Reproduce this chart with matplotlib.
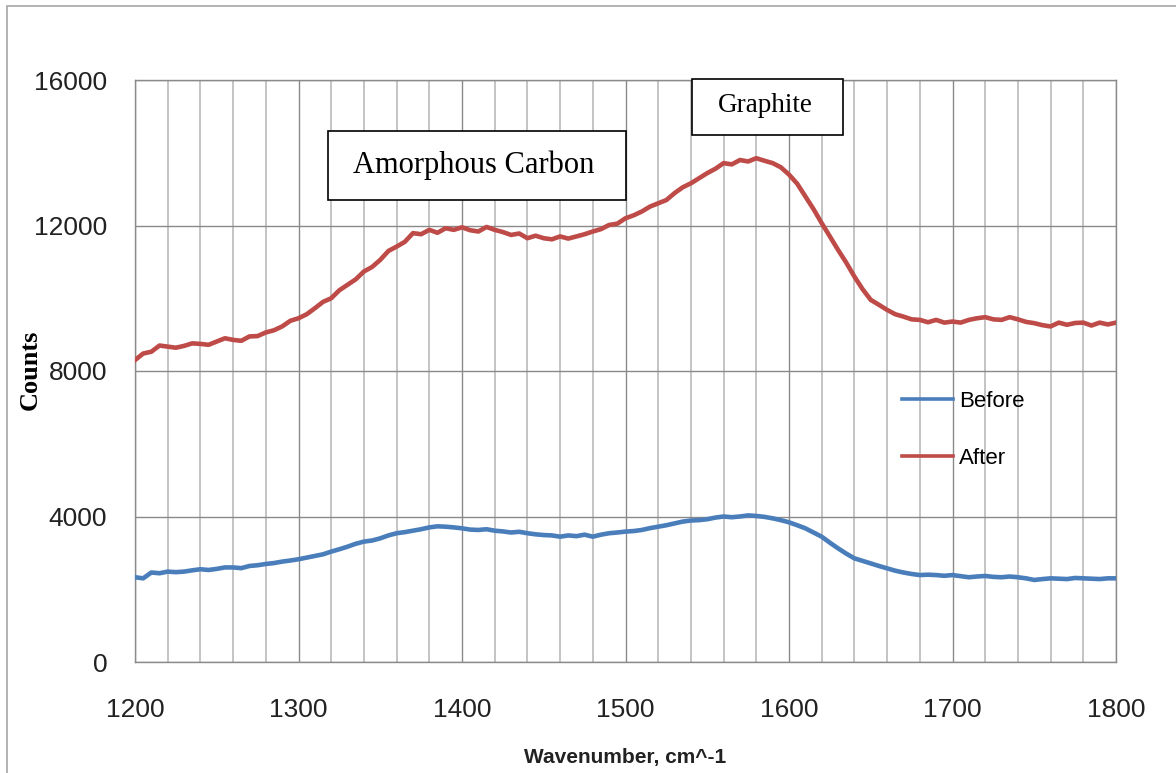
import numpy as np
import matplotlib
matplotlib.use("Agg")
import matplotlib.pyplot as plt
from matplotlib.patches import Rectangle
from matplotlib.ticker import MultipleLocator

# wavenumber grid (cm^-1), readings every 5 cm^-1
wavenumber = np.arange(1200, 1801, 5)

before = [
    2330, 2300, 2460, 2440, 2485, 2470, 2485, 2520, 2550, 2530,
    2560, 2600, 2600, 2580, 2640, 2660, 2695, 2720, 2760, 2790,
    2825, 2870, 2915, 2960, 3035, 3100, 3170, 3250, 3310, 3340,
    3400, 3480, 3540, 3570, 3610, 3650, 3700, 3730, 3720, 3700,
    3675, 3640, 3630, 3650, 3610, 3590, 3560, 3580, 3540, 3510,
    3490, 3480, 3445, 3480, 3460, 3500, 3445, 3500, 3540, 3560,
    3585, 3600, 3630, 3680, 3720, 3760, 3810, 3860, 3890, 3900,
    3925, 3970, 4000, 3980, 4000, 4030, 4015, 3990, 3950, 3900,
    3840, 3760, 3675, 3560, 3445, 3280, 3125, 2980, 2850, 2780,
    2710, 2640, 2575, 2510, 2460, 2420, 2390, 2400, 2390, 2370,
    2390, 2360, 2330, 2350, 2365, 2340, 2330, 2350, 2330, 2300,
    2255, 2280, 2300, 2290, 2280, 2310, 2300, 2290, 2280, 2300,
    2300,
]

after = [
    8300, 8480, 8530, 8700, 8670, 8640, 8690, 8760, 8745, 8720,
    8810, 8900, 8855, 8830, 8950, 8960, 9060, 9120, 9225, 9380,
    9450, 9560, 9725, 9900, 10000, 10220, 10370, 10520, 10735, 10860,
    11055, 11300, 11420, 11550, 11790, 11760, 11880, 11800, 11925, 11880,
    11950, 11870, 11835, 11960, 11880, 11820, 11740, 11780, 11650, 11720,
    11650, 11620, 11700, 11640, 11700, 11760, 11835, 11900, 12015, 12050,
    12200, 12280, 12385, 12520, 12610, 12700, 12890, 13050, 13160, 13300,
    13440, 13560, 13715, 13680, 13800, 13760, 13850, 13780, 13715, 13600,
    13400, 13150, 12800, 12450, 12065, 11700, 11330, 10980, 10595, 10250,
    9955, 9820, 9680, 9560, 9495, 9420, 9405, 9340, 9405, 9330,
    9360, 9330, 9405, 9450, 9480, 9420, 9405, 9480, 9420, 9350,
    9315, 9260, 9225, 9330, 9270, 9320, 9330, 9250, 9330, 9280,
    9330,
]

fig = plt.figure(figsize=(11.76, 7.73), dpi=100)
W, H = 1176, 773

# outer chart border (cut off on right and bottom)
fig.patches.append(Rectangle((7 / W, -0.1), 1.2, 1 - 6 / H + 0.1,
                             transform=fig.transFigure, fill=False,
                             edgecolor="#a6a6a6", lw=1.2))

ax = fig.add_axes([135 / W, 1 - 662 / H, 981 / W, 582 / H])

ax.plot(wavenumber, before, color="#4a7ebb", lw=3.3, label="Before", zorder=3)
ax.plot(wavenumber, after, color="#be4b48", lw=3.3, label="After", zorder=3)

ax.set_xlim(1200, 1800)
ax.set_ylim(0, 16000)
ax.xaxis.set_major_locator(MultipleLocator(100))
ax.xaxis.set_minor_locator(MultipleLocator(20))
ax.yaxis.set_major_locator(MultipleLocator(4000))

# grid lines
ax.grid(which="minor", axis="x", color="#c4c4c4", lw=1.4)
ax.grid(which="major", axis="both", color="#8a8a8a", lw=1.0)
ax.set_axisbelow(True)
for s in ax.spines.values():
    s.set_color("#8a8a8a")
    s.set_linewidth(1.0)

ax.tick_params(which="both", length=0)
ax.tick_params(axis="x", pad=26)
ax.tick_params(axis="y", pad=20)
for lab in ax.get_xticklabels() + ax.get_yticklabels():
    lab.set_fontfamily("Liberation Sans")
    lab.set_fontsize(19)
    lab.set_color("#222222")

fig.text(30 / W, 1 - 370 / H, "Counts", rotation=90, ha="center", va="center",
         family="Liberation Serif", weight="bold", fontsize=19)
fig.text(625 / W, 1 - 758 / H, "Wavenumber, cm^-1", ha="center", va="center",
         family="Liberation Sans", weight="bold", fontsize=15, color="#222222")

leg = ax.legend(loc="upper left", bbox_to_anchor=(902 / W, 1 - 391 / H),
                bbox_transform=fig.transFigure, frameon=False,
                prop={"family": "Liberation Sans", "size": 16},
                handlelength=2.3, handletextpad=0.25, labelspacing=1.6,
                borderpad=0, borderaxespad=0)
for line in leg.get_lines():
    line.set_linewidth(2.6)

# annotation boxes
def label_box(x0, y0, x1, y1, text, size, tx, ty):
    fig.patches.append(Rectangle((x0 / W, 1 - y1 / H), (x1 - x0) / W, (y1 - y0) / H,
                                 transform=fig.transFigure, facecolor="white",
                                 edgecolor="black", lw=1.2, zorder=5))
    fig.text(tx / W, 1 - ty / H, text, ha="center", va="center",
             family="Liberation Serif", fontsize=size, zorder=6)

label_box(328, 131, 626, 200, "Amorphous Carbon", 22, 474, 165)
label_box(692, 79, 843, 135, "Graphite", 19.5, 765, 105)

fig.savefig("out.png", dpi=100)
